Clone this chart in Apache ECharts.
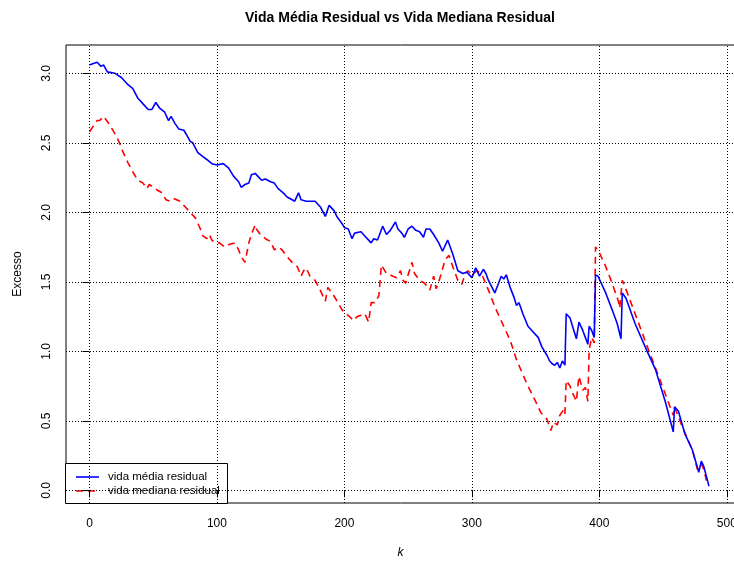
<!DOCTYPE html>
<html>
<head>
<meta charset="utf-8">
<script src="https://cdn.jsdelivr.net/npm/echarts@6/dist/echarts.min.js"></script>
<style>
html,body{margin:0;padding:0;background:#fff;}
#chart{width:734px;height:561px;}
</style>
</head>
<body>
<div id="chart"></div>
<script>
const titleText = 'Vida Média Residual vs Vida Mediana Residual';
const xName = 'k';
const yName = 'Excesso';
const seriesNames = ['vida média residual', 'vida mediana residual'];
const xTicks = [0, 100, 200, 300, 400, 500];
const yTicks = [0, 0.5, 1, 1.5, 2, 2.5, 3];

const kMedia = [0,3,6,9,11,14,20,25,30,34,38,42,46,47,49,52,55,59,62,64,67,70,74,76,79,81,85,89,92,93,96,100,105,109,113,117,119,122,125,127,130,132,135,138,142,145,148,152,155,159,161,164,166,170,173,177,181,185,188,192,194,198,200,203,206,208,213,216,219,221,223,226,230,233,236,240,242,245,247,250,253,256,259,262,264,267,270,274,277,281,285,289,293,296,300,303,306,309,311,313,318,323,325,327,330,333,335,337,340,344,347,350,352,355,356,359,361,363,365,367,369,371,373,374,377,380,382,384,387,389,391,392,394,396,397,399,405,410,414,417,418,421,428,437,444,452,458,459,462,467,473,478,480,482,486];
const vidaMedia = [3.06,3.07,3.08,3.05,3.06,3.01,3.00,2.97,2.92,2.89,2.82,2.78,2.74,2.75,2.74,2.79,2.75,2.72,2.66,2.69,2.64,2.60,2.59,2.56,2.51,2.50,2.43,2.40,2.38,2.39,2.35,2.34,2.35,2.32,2.26,2.22,2.18,2.20,2.21,2.27,2.28,2.26,2.23,2.24,2.22,2.21,2.17,2.14,2.11,2.09,2.08,2.14,2.09,2.08,2.08,2.08,2.04,1.97,2.05,2.01,1.97,1.92,1.89,1.88,1.81,1.85,1.86,1.83,1.80,1.78,1.81,1.80,1.90,1.84,1.87,1.93,1.88,1.85,1.82,1.88,1.90,1.87,1.86,1.82,1.88,1.88,1.84,1.78,1.72,1.80,1.70,1.58,1.56,1.57,1.53,1.60,1.54,1.59,1.56,1.51,1.42,1.54,1.52,1.55,1.46,1.39,1.33,1.35,1.27,1.18,1.15,1.12,1.10,1.03,1.04,0.97,0.93,0.91,0.90,0.92,0.88,0.93,0.90,1.27,1.24,1.15,1.09,1.21,1.15,1.10,1.05,1.18,1.15,1.10,1.55,1.54,1.42,1.30,1.20,1.09,1.42,1.38,1.20,1.01,0.87,0.63,0.42,0.60,0.57,0.41,0.29,0.13,0.21,0.17,0.03];

const kMediana = [0,3,6,8,11,15,19,23,26,30,34,38,42,45,47,50,53,57,60,63,66,71,75,79,83,87,89,92,94,96,99,102,106,110,114,117,119,122,125,127,130,131,134,138,142,145,148,151,155,159,163,166,168,170,173,177,181,185,187,191,195,198,200,204,207,210,213,216,219,221,224,227,229,233,236,238,241,244,246,248,250,253,255,259,263,267,270,272,274,276,279,282,285,289,292,295,297,300,304,308,313,318,325,330,335,343,350,354,356,359,362,364,367,369,372,373,374,377,378,382,383,384,387,389,391,392,394,396,397,399,405,410,415,416,418,422,439,449,458,459,465,473,477,480,482,484];
const vidaMediana = [2.58,2.62,2.66,2.66,2.69,2.64,2.58,2.51,2.44,2.36,2.29,2.23,2.21,2.17,2.20,2.18,2.16,2.14,2.09,2.08,2.10,2.08,2.04,2.00,1.96,1.88,1.83,1.81,1.84,1.80,1.78,1.78,1.75,1.77,1.78,1.73,1.68,1.64,1.78,1.84,1.91,1.88,1.84,1.81,1.79,1.73,1.75,1.73,1.68,1.64,1.61,1.54,1.58,1.60,1.54,1.51,1.44,1.36,1.46,1.41,1.35,1.30,1.28,1.25,1.22,1.25,1.26,1.27,1.21,1.35,1.35,1.40,1.62,1.56,1.55,1.54,1.53,1.58,1.51,1.49,1.55,1.64,1.56,1.51,1.49,1.44,1.54,1.45,1.50,1.56,1.66,1.69,1.61,1.51,1.48,1.56,1.58,1.55,1.58,1.55,1.44,1.32,1.18,1.08,0.94,0.77,0.64,0.56,0.54,0.51,0.43,0.49,0.47,0.54,0.58,0.55,0.79,0.75,0.72,0.64,0.63,0.82,0.72,0.74,0.64,1.01,1.10,1.06,1.75,1.73,1.61,1.49,1.36,1.31,1.51,1.42,1.00,0.76,0.54,0.60,0.46,0.29,0.15,0.19,0.15,0.07];

const mediaData = kMedia.map((k, i) => [k, vidaMedia[i]]);
const medianaData = kMediana.map((k, i) => [k, vidaMediana[i]]);

const FONT = 'Liberation Sans, Arial, sans-serif';
const gridStyle = {color: '#000', width: 1, type: [1, 2]};
const gridLines = xTicks.map(v => ({xAxis: v})).concat(yTicks.map(v => ({yAxis: v})));
const colors = ['#0000FF', '#FF0000'];

const chart = echarts.init(document.getElementById('chart'), null, {renderer: 'canvas'});
chart.setOption({
  animation: false,
  backgroundColor: '#fff',
  textStyle: {fontFamily: FONT},
  title: {
    text: titleText,
    left: 395,
    textAlign: 'center',
    top: 6,
    textStyle: {fontSize: 14, fontWeight: 'bold', color: '#000', fontFamily: FONT}
  },
  grid: {
    left: 66, top: 45, width: 669, height: 458,
    show: true, borderColor: '#000', borderWidth: 1, backgroundColor: 'transparent',
    containLabel: false,
    outerBoundsMode: 'none'
  },
  xAxis: {
    type: 'value',
    min: -18.44, max: 506.44,
    axisLine: {show: false},
    axisTick: {show: true, customValues: xTicks, length: 7, lineStyle: {color: '#000'}},
    axisLabel: {customValues: xTicks, color: '#000', fontSize: 12, margin: 15, hideOverlap: false, showMaxLabel: true, showMinLabel: true},
    splitLine: {show: false},
    name: xName,
    nameLocation: 'middle',
    nameGap: 44,
    nameTextStyle: {fontStyle: 'italic', fontSize: 12, color: '#000'}
  },
  yAxis: {
    type: 'value',
    min: -0.0914, max: 3.2036,
    axisLine: {show: false},
    axisTick: {show: true, customValues: yTicks, length: 7, lineStyle: {color: '#000'}},
    axisLabel: {customValues: yTicks, color: '#000', fontSize: 12, margin: 13, rotate: 90,
      formatter: v => v.toFixed(1)},
    splitLine: {show: false},
    name: yName,
    nameLocation: 'middle',
    nameGap: 42,
    nameTextStyle: {fontSize: 12, color: '#000'}
  },
  graphic: [
    {
      type: 'group', left: 65, top: 463, z: 100,
      children: [
        {type: 'rect', shape: {x: 0.5, y: 0.5, width: 162, height: 40}, style: {fill: '#fff', stroke: '#000', lineWidth: 1}},
        {type: 'line', shape: {x1: 11, y1: 14, x2: 34, y2: 14}, style: {stroke: colors[0], lineWidth: 1.6}},
        {type: 'text', x: 43, y: 14, style: {text: seriesNames[0], fill: '#000', fontSize: 11.5, fontFamily: FONT, verticalAlign: 'middle', align: 'left'}},
        {type: 'line', shape: {x1: 11, y1: 28, x2: 34, y2: 28}, style: {stroke: colors[1], lineWidth: 1.6, lineDash: [7, 5]}},
        {type: 'text', x: 43, y: 28, style: {text: seriesNames[1], fill: '#000', fontSize: 11.5, fontFamily: FONT, verticalAlign: 'middle', align: 'left'}}
      ]
    }
  ],
  series: [
    {
      name: 'grid', type: 'line', data: [], silent: true, z: 1,
      markLine: {silent: true, symbol: 'none', label: {show: false}, lineStyle: gridStyle, data: gridLines, animation: false}
    },
    {
      name: seriesNames[0], type: 'line', data: mediaData, symbol: 'none', showSymbol: false,
      lineStyle: {color: colors[0], width: 1.6}, itemStyle: {color: colors[0]}, z: 3, clip: true
    },
    {
      name: seriesNames[1], type: 'line', data: medianaData, symbol: 'none', showSymbol: false,
      lineStyle: {color: colors[1], width: 1.6, type: [7, 5]}, itemStyle: {color: colors[1]}, z: 2, clip: true
    }
  ]
});
</script>
</body>
</html>
